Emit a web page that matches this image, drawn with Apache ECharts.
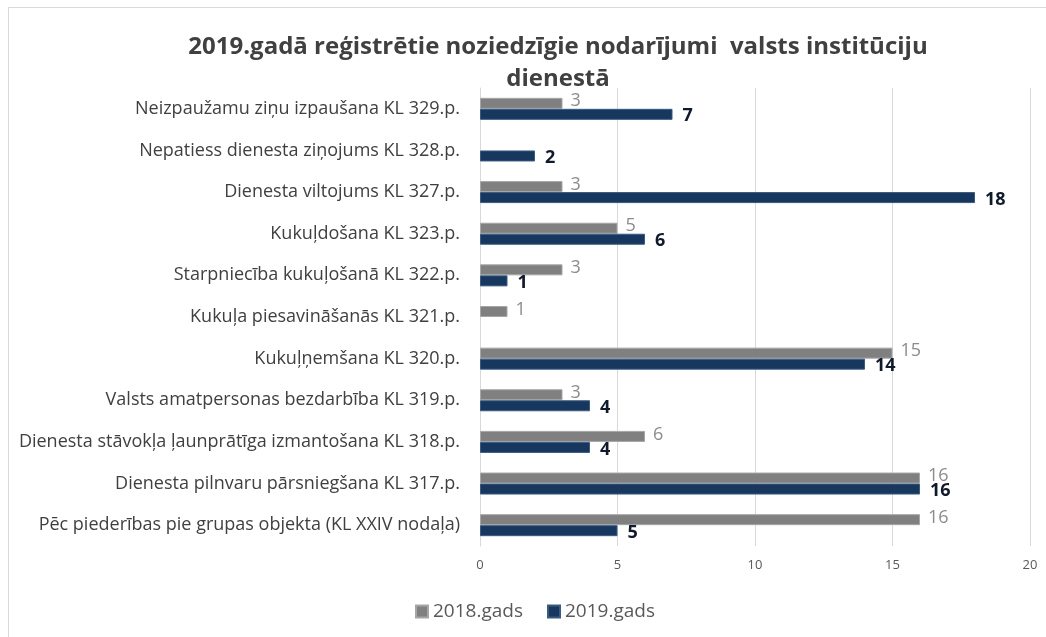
<!DOCTYPE html>
<html>
<head>
<meta charset="utf-8">
<script src="https://cdn.jsdelivr.net/npm/echarts@6/dist/echarts.min.js"></script>
<style>
  html, body { margin: 0; padding: 0; background: #fff; overflow: hidden; }
  #frame { position: absolute; left: 8px; top: 7px; width: 1100px; height: 700px;
           border-left: 1px solid #d9d9d9; border-top: 1px solid #d9d9d9; }
  #myChart { position: absolute; left: 0; top: 0; width: 1046px; height: 637px; }
</style>
</head>
<body>
<div id="frame"></div>
<div id="myChart"></div>
<script>
// kategorijas no augšas uz leju
const categories = [
  'Neizpaužamu ziņu izpaušana KL 329.p.',
  'Nepatiess dienesta ziņojums KL 328.p.',
  'Dienesta viltojums KL 327.p.',
  'Kukuļdošana KL 323.p.',
  'Starpniecība kukuļošanā KL 322.p.',
  'Kukuļa piesavināšanās KL 321.p.',
  'Kukuļņemšana KL 320.p.',
  'Valsts amatpersonas bezdarbība KL 319.p.',
  'Dienesta stāvokļa ļaunprātīga izmantošana KL 318.p.',
  'Dienesta pilnvaru pārsniegšana KL 317.p.',
  'Pēc piederības pie grupas objekta (KL XXIV nodaļa)'
];
const values2018 = [3, null, 3, 5, 3, 1, 15, 3, 6, 16, 16];
const values2019 = [7, 2, 18, 6, 1, null, 14, 4, 4, 16, 5];
const seriesNames = ['2018.gads', '2019.gads'];

const font = '"Open Sans", sans-serif';
let myChart = echarts.init(document.getElementById('myChart'));
let option = {
  textStyle: { fontFamily: font },
  title: {
    text: '2019.gadā reģistrētie noziedzīgie nodarījumi  valsts institūciju\ndienestā',
    left: 553,
    textAlign: 'center',
    top: 26,
    textStyle: { fontFamily: font, fontSize: 24, fontWeight: 'bold', color: '#404040', lineHeight: 32 }
  },
  legend: {
    data: seriesNames,
    bottom: 11,
    left: 410,
    itemWidth: 12,
    itemHeight: 12,
    itemGap: 24,
    icon: 'rect',
    textStyle: { fontFamily: font, fontSize: 19, color: '#595959' }
  },
  grid: { left: 480, right: 16, top: 88, bottom: 91, containLabel: false },
  xAxis: {
    type: 'value',
    min: 0, max: 20, interval: 5,
    axisLine: { show: false },
    axisTick: { show: false },
    splitLine: { lineStyle: { color: '#d9d9d9', width: 1 } },
    axisLabel: { color: '#595959', fontSize: 13, margin: 13, fontFamily: font }
  },
  yAxis: {
    type: 'category',
    inverse: true,
    data: categories,
    axisLine: { show: true, lineStyle: { color: '#d9d9d9' } },
    axisTick: { show: false },
    axisLabel: { color: '#404040', fontSize: 18, margin: 20, fontFamily: font }
  },
  series: [
    {
      name: seriesNames[0],
      type: 'bar',
      data: values2018,
      barWidth: 11,
      barGap: '0%',
      itemStyle: { color: '#808080', borderColor: '#a6a6a6', borderWidth: 1 },
      label: { show: true, position: 'right', distance: 8, color: '#8c8c8c', fontSize: 18, fontFamily: font, offset: [0, -2] }
    },
    {
      name: seriesNames[1],
      type: 'bar',
      data: values2019,
      barWidth: 11,
      itemStyle: { color: '#17375e', borderColor: '#3a5a80', borderWidth: 1 },
      label: { show: true, position: 'right', distance: 10, color: '#111a2a', fontSize: 18, fontWeight: 'bold', fontFamily: font, offset: [0, 2] }
    }
  ]
};
myChart.setOption(option);
</script>
</body>
</html>
